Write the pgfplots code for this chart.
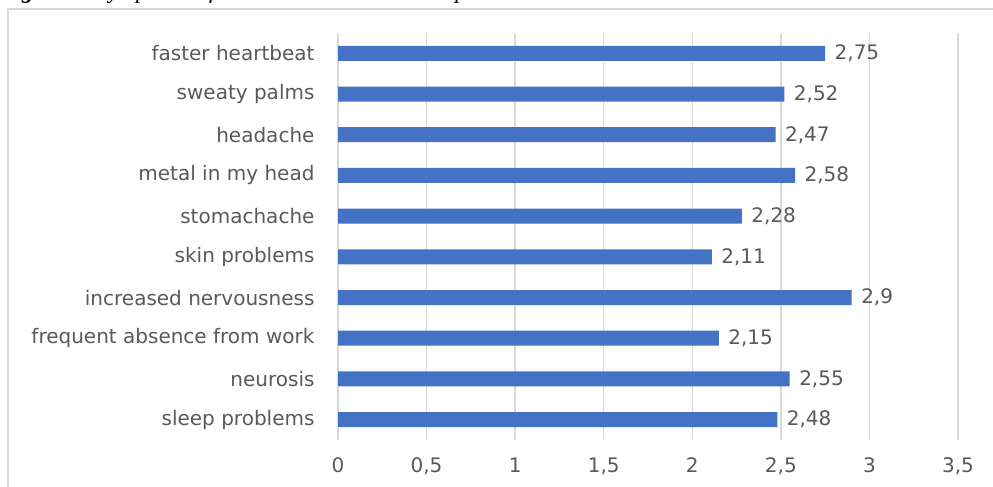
\documentclass[border=0pt]{standalone}
\usepackage{fontspec}
\setmainfont{DejaVu Sans}
\newfontfamily\capfont{Liberation Serif}
\usepackage{pgfplots}
\pgfplotsset{compat=1.18}
\definecolor{barblue}{HTML}{4472C4}
\definecolor{gridgray}{HTML}{D9D9D9}
\definecolor{txtgray}{HTML}{595959}
\pgfplotstableread{
idx value
0 2.48
1 2.55
2 2.15
3 2.90
4 2.11
5 2.28
6 2.58
7 2.47
8 2.52
9 2.75
}\symptoms
\begin{document}
\begin{tikzpicture}[x=1pt,y=1pt]
\path[use as bounding box] (0,0) rectangle (993,487);
\clip (0,0) rectangle (993,487);
% caption above the chart frame
\node[anchor=base west,inner sep=0pt,font=\capfont\fontsize{23.3}{26}\selectfont] at (0,488)
  {\textbf{\textit{Figure 4.}} \textit{Symptoms of stress related to the workplace}};
% chart frame
\draw[gridgray,line width=1.5pt] (8,-20) -- (8,478) -- (1010,478);
\begin{axis}[
  at={(338pt,47pt)}, anchor=south west,
  scale only axis, width=620pt, height=407pt,
  xbar, bar width=15pt,
  xmin=0, xmax=3.5, ymin=-0.5, ymax=9.5,
  xtick={0,0.5,...,3.5},
  ytick={0,...,9},
  yticklabels={sleep problems,neurosis,frequent absence from work,increased nervousness,skin problems,stomachache,metal in my head,headache,sweaty palms,faster heartbeat},
  axis line style={draw=none},
  major tick length=0pt,
  xmajorgrids, major x grid style={gridgray,line width=1.5pt},
  tick label style={font=\fontsize{20}{22}\selectfont,text=txtgray},
  /pgf/number format/assume math mode=true,
  /pgf/number format/use comma,
  xticklabel style={yshift=-14pt},
  yticklabel style={xshift=-20pt},
  nodes near coords,
  every node near coord/.append style={anchor=west,font=\fontsize{20}{22}\selectfont,text=txtgray,xshift=6pt,
    /pgf/number format/assume math mode=true,/pgf/number format/use comma},
  point meta=explicit,
]
\addplot[fill=barblue,draw=none] table[x=value,y=idx,meta=value] {\symptoms};
\end{axis}
\end{tikzpicture}
\end{document}
